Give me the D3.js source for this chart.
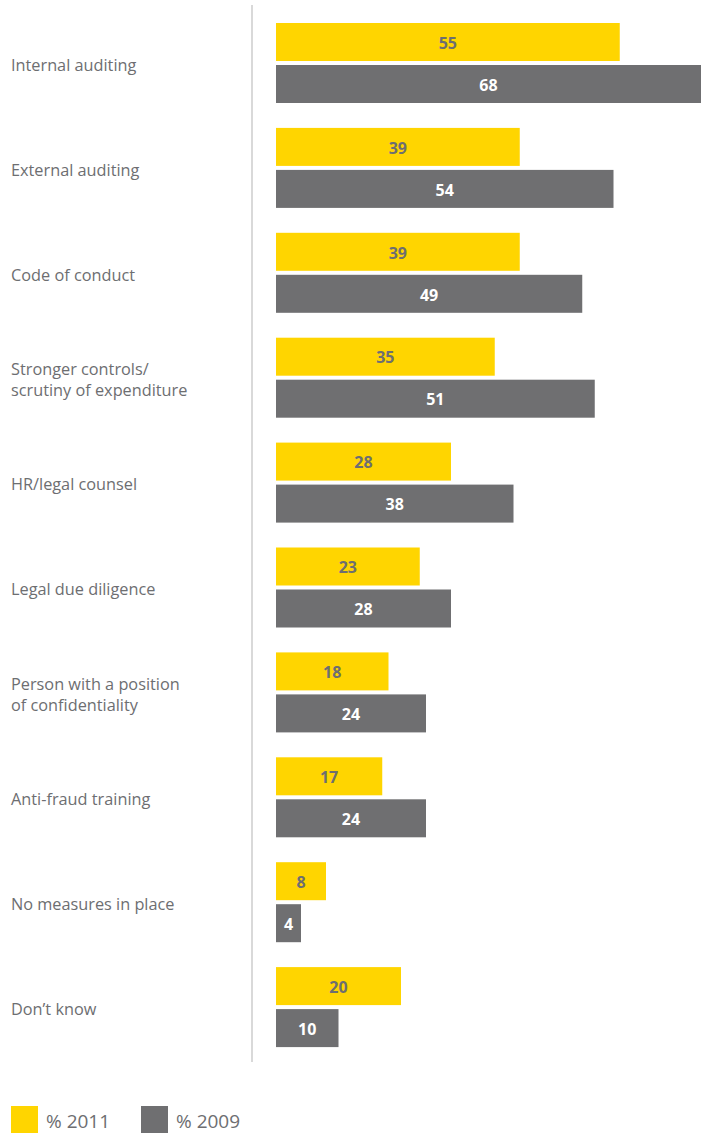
<!DOCTYPE html>
<html><head><meta charset="utf-8">
<script src="https://cdn.jsdelivr.net/npm/d3@7"></script>
<style>body{margin:0;background:#fff}svg{display:block}</style>
</head><body>
<script>
const categories = [
  ["Internal auditing"],
  ["External auditing"],
  ["Code of conduct"],
  ["Stronger controls/", "scrutiny of expenditure"],
  ["HR/legal counsel"],
  ["Legal due diligence"],
  ["Person with a position", "of confidentiality"],
  ["Anti-fraud training"],
  ["No measures in place"],
  ["Don\u2019t know"]
];
const values2011 = [55, 39, 39, 35, 28, 23, 18, 17, 8, 20];
const values2009 = [68, 54, 49, 51, 38, 28, 24, 24, 4, 10];
const seriesNames = ["% 2011", "% 2009"];

const W = 709, H = 1133;
const YELLOW = "#FFD500", GREY = "#6F6F71", TEXT = "#6D6E71";
const FONT = "'Open Sans', 'Noto Sans', sans-serif";

const svg = d3.select("body").append("svg").attr("width", W).attr("height", H);

const keys = categories.map((c, i) => i);
const y = d3.scaleBand().domain(keys).range([10.55, 10.55 + 1049]).paddingInner(0.2374).paddingOuter(0.1187);
const ySub = d3.scaleBand().domain(seriesNames).range([0, y.bandwidth()]).paddingInner(4/42).paddingOuter(0);
const x = d3.scaleLinear().domain([0, 68]).range([276, 701]);

// vertical axis line
svg.append("line").attr("x1", 252).attr("x2", 252).attr("y1", 5).attr("y2", 1062)
  .attr("stroke", "#D9D9D9").attr("stroke-width", 2);

const g = svg.selectAll("g.cat").data(keys).enter().append("g")
  .attr("transform", d => `translate(0,${y(d)})`);

// category labels
g.each(function(d) {
  const lines = categories[d];
  const lh = 21;
  const cy = y.bandwidth() / 2 + 2;
  const t = d3.select(this).append("text")
    .attr("x", 11).attr("font-family", FONT).attr("font-size", 16.3).attr("fill", TEXT);
  lines.forEach((ln, j) => {
    t.append("tspan").attr("x", 11)
      .attr("y", cy + (j - (lines.length - 1) / 2) * lh)
      .attr("dy", "0.35em").text(ln);
  });
});

const series = [
  {name: seriesNames[0], vals: values2011, fill: YELLOW, label: TEXT},
  {name: seriesNames[1], vals: values2009, fill: GREY, label: "#FFFFFF"}
];

series.forEach(s => {
  g.append("rect")
    .attr("x", x(0)).attr("y", ySub(s.name))
    .attr("width", d => x(s.vals[d]) - x(0))
    .attr("height", ySub.bandwidth())
    .attr("fill", s.fill);
  g.append("text")
    .attr("x", d => (x(0) + x(s.vals[d])) / 2)
    .attr("y", ySub(s.name) + ySub.bandwidth() / 2)
    .attr("dy", "0.42em").attr("text-anchor", "middle")
    .attr("font-family", FONT).attr("font-size", 16).attr("font-weight", "bold")
    .attr("fill", s.label)
    .text(d => s.vals[d]);
});

// legend
const legX = [11, 141];
series.forEach((s, i) => {
  svg.append("rect").attr("x", legX[i]).attr("y", 1106).attr("width", 27).attr("height", 27).attr("fill", s.fill);
  svg.append("text").attr("x", legX[i] + 35).attr("y", 1128)
    .attr("font-family", FONT).attr("font-size", 19).attr("fill", TEXT).text(s.name);
});
</script>
</body></html>
